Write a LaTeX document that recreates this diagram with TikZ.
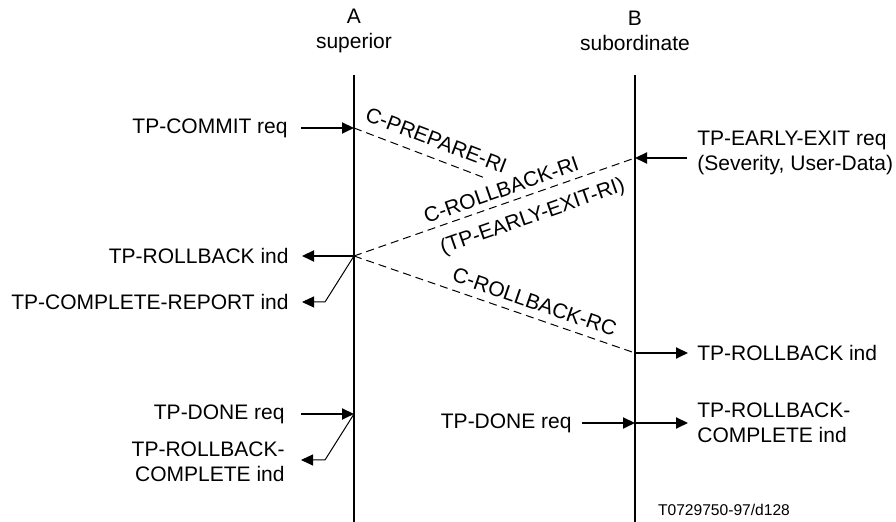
\documentclass[tikz,border=0pt]{standalone}
\usepackage{fontspec}
\setmainfont{Liberation Sans}
\usepackage{tikz}
\usetikzlibrary{arrows.meta,positioning,calc}

\begin{document}
\begin{tikzpicture}[
  x=0.5pt,y=-0.5pt,
  font=\fontsize{10.5}{12.5}\selectfont,
  life/.style={line width=1.2pt,draw=black},
  msg/.style={-{Triangle[length=6pt,width=5.5pt]},line width=1pt},
  bent/.style={-{Triangle[length=6pt,width=5.5pt]},line width=0.5pt},
  dashline/.style={line width=0.5pt,dash pattern=on 4pt off 2.5pt},
  lbl/.style={sloped,inner sep=3pt},
  prim/.style={inner ysep=0pt,inner xsep=6.5pt},
  head/.style={align=center,inner sep=0pt}
]
\useasboundingbox (0,0) rectangle (896,522);
% lifelines
\node[head] (hA) at (354,31) {A\\superior};
\node[head] (hB) at (635,31) {B\\subordinate};
\coordinate (At) at (354,75);
\coordinate (Ab) at (354,522);
\coordinate (Bt) at (635,75);
\coordinate (Bb) at (635,522);
\draw[life] (At) -- (Ab);
\draw[life] (Bt) -- (Bb);
% event points
\coordinate (a1) at (354,128);
\coordinate (b1) at (635,158);
\coordinate (a2) at (354,256);
\coordinate (b2) at (635,353);
\coordinate (a3) at (354,414);
\coordinate (b3) at (635,423);
\coordinate (p1) at (485,178);
\coordinate (k1) at (325,302);
\coordinate (k2) at (325,460);
% primitives
\node[prim,anchor=east] (commit) at (301,128) {TP-COMMIT req};
\node[prim,anchor=west,align=left,inner xsep=5pt] (exitreq) at (687,153) {TP-EARLY-EXIT req\\(Severity, User-Data)};
\node[prim,anchor=east] (rbind) at (302,256) {TP-ROLLBACK ind};
\node[prim,anchor=east] (crind) at (302,302) {TP-COMPLETE-REPORT ind};
\node[prim,anchor=west,inner xsep=4.5pt] (rbindB) at (688,353) {TP-ROLLBACK ind};
\node[prim,anchor=east,inner xsep=8pt] (doneA) at (301,414) {TP-DONE req};
\node[prim,anchor=east,align=right,inner xsep=8pt] (rcindA) at (301,462) {TP-ROLLBACK-\\COMPLETE ind};
\node[prim,anchor=east,inner xsep=5pt] (doneB) at (582,423) {TP-DONE req};
\node[prim,anchor=west,align=left,inner xsep=4.5pt] (rcindB) at (688,423) {TP-ROLLBACK-\\COMPLETE ind};
\node[font=\fontsize{7.8}{9}\selectfont] (figref) at (724,510) {T0729750-97/d128};
% messages
\draw[msg] (commit) -- (a1);
\draw[msg] (exitreq.west |- b1) -- (b1);
\draw[msg] (a2) -- (rbind);
\draw[bent] (a2) -- (k1) -- (crind);
\draw[msg] (b2) -- (rbindB);
\draw[msg] (doneA) -- (a3);
\draw[bent] (a3) -- (k2) -- (k2 -| rcindA.east);
\draw[msg] (doneB) -- (b3);
\draw[msg] (b3) -- (rcindB);
% peer PDUs
\draw[dashline] (a1) -- node[lbl,pos=0.58,above=2pt] {C-PREPARE-RI} (p1);
\draw[dashline] (a2) -- node[lbl,pos=0.54,above=0pt] {C-ROLLBACK-RI}
  node[lbl,pos=0.61,below=3pt] {(TP-EARLY-EXIT-RI)} (b1);
\draw[dashline] (a2) -- node[lbl,pos=0.625,above=0.75pt] {C-ROLLBACK-RC} (b2);
\end{tikzpicture}
\end{document}
